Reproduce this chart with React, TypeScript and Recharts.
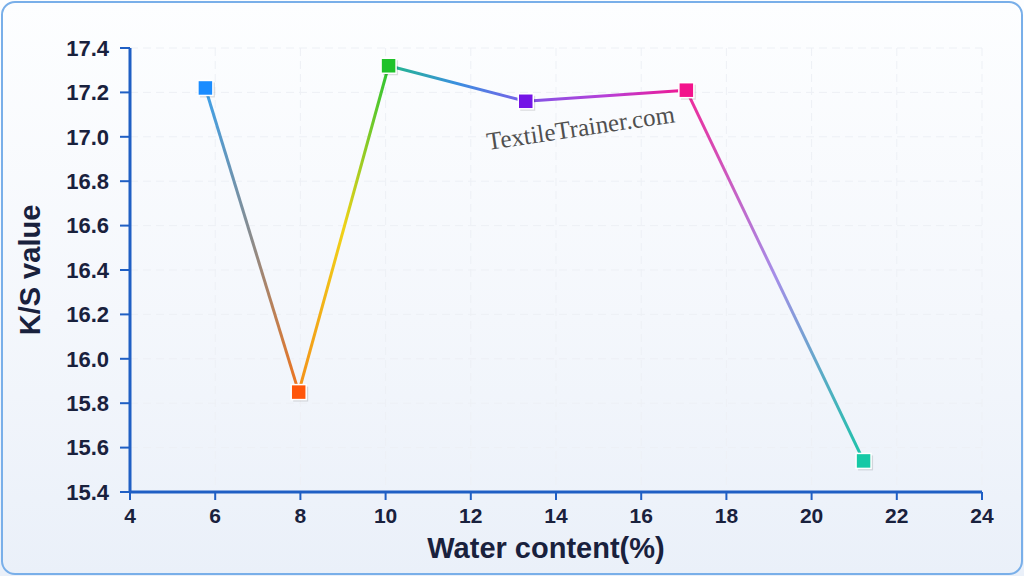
import React from 'react';
import {
  ComposedChart,
  Line,
  Scatter,
  XAxis,
  YAxis,
  CartesianGrid,
} from 'recharts';

// water content (%) and K/S value
const waterContent = [5.77, 7.96, 10.07, 13.29, 17.06, 21.22];
const ksValue = [17.22, 15.85, 17.32, 17.16, 17.21, 15.54];

const xTicks = [4, 6, 8, 10, 12, 14, 16, 18, 20, 22, 24];
const yTicks = [15.4, 15.6, 15.8, 16.0, 16.2, 16.4, 16.6, 16.8, 17.0, 17.2, 17.4];

const markerColors = ['#1a8cff', '#ff560a', '#1fc22a', '#7414e6', '#f3128c', '#16c9a6'];
// gradient stops for each segment between two points
const segmentStops = [
  ['#3ea1ea', '#8b8b8b', '#f0741c'],
  ['#f39019', '#f0d218', '#28c434'],
  ['#22b88a', '#3b8fe0', '#7a5ee8'],
  ['#7f55e6', '#b740d8', '#f2168e'],
  ['#ef2a9a', '#a58ee8', '#19c4a8'],
];

const AXIS = '#1f5fc4';
const TEXT = '#19213d';

const points = waterContent.map((x, i) => ({ x, y: ksValue[i], color: markerColors[i] }));
const segments = points.slice(1).map((p, i) => [points[i], p]);

const SquareDot = (props: any) => {
  const { cx, cy, payload } = props;
  if (cx == null || cy == null) return null;
  const s = 15;
  return (
    <g>
      <rect x={cx - s / 2 + 2} y={cy - s / 2 + 2} width={s} height={s} fill="#000" opacity={0.12} />
      <rect
        x={cx - s / 2}
        y={cy - s / 2}
        width={s}
        height={s}
        fill={payload.color}
        stroke="#ffffff"
        strokeWidth={1.5}
      />
    </g>
  );
};

const fmtY = (v: number) => v.toFixed(1);

export default function App() {
  return (
    <div
      style={{
        position: 'absolute',
        left: 0,
        top: 0,
        width: 1024,
        height: 576,
        overflow: 'hidden',
        background: 'linear-gradient(180deg, #fdfeff 0%, #f4f7fc 55%, #eaf0f9 100%)',
        fontFamily: 'Liberation Sans, Arial, sans-serif',
      }}
    >
      <div
        style={{
          position: 'absolute',
          left: 1,
          top: 1,
          width: 1018,
          height: 570,
          border: '2px solid #79afe9',
          borderRadius: 14,
        }}
      />
      <ComposedChart
        width={1024}
        height={576}
        margin={{ top: 48, right: 42, bottom: 0, left: 0 }}
        style={{ position: 'absolute', left: 0, top: 0 }}
      >
        <defs>
          {segmentStops.map((stops, i) => (
            <linearGradient key={`g-${i}`} id={`seg-${i}`} x1="0" y1="0" x2="1" y2="0">
              {stops.map((c, j) => (
                <stop key={j} offset={`${(j / (stops.length - 1)) * 100}%`} stopColor={c} />
              ))}
            </linearGradient>
          ))}
        </defs>
        <CartesianGrid stroke="#edf0f5" strokeDasharray="8 5" />
        <XAxis
          dataKey="x"
          type="number"
          domain={[4, 24]}
          ticks={xTicks}
          height={84}
          axisLine={{ stroke: AXIS, strokeWidth: 3 }}
          tickLine={{ stroke: AXIS, strokeWidth: 2 }}
          tickSize={8}
          tickMargin={8}
          tick={{ fill: TEXT, fontSize: 21, fontWeight: 700 }}
          allowDuplicatedCategory={false}
          label={{
            value: 'Water content(%)',
            position: 'insideBottom',
            offset: 18,
            dx: -10,
            fill: TEXT,
            fontSize: 29,
            fontWeight: 700,
          }}
        />
        <YAxis
          dataKey="y"
          type="number"
          domain={[15.4, 17.4]}
          ticks={yTicks}
          width={130}
          tickFormatter={fmtY}
          axisLine={{ stroke: AXIS, strokeWidth: 3 }}
          tickLine={{ stroke: AXIS, strokeWidth: 2 }}
          tickSize={10}
          tickMargin={11}
          tick={{ fill: TEXT, fontSize: 22, fontWeight: 700 }}
          label={{
            value: 'K/S value',
            angle: -90,
            position: 'insideLeft',
            offset: 30,
            fill: TEXT,
            fontSize: 29,
            fontWeight: 700,
            style: { textAnchor: 'middle' },
          }}
        />
        {segments.map((seg, i) => (
          <Line
            key={`s-${i}`}
            data={seg}
            dataKey="y"
            type="linear"
            stroke={`url(#seg-${i})`}
            strokeWidth={3}
            dot={false}
            activeDot={false}
            isAnimationActive={false}
          />
        ))}
        <Scatter data={points} dataKey="y" shape={SquareDot} isAnimationActive={false} />
      </ComposedChart>
      <div
        style={{
          position: 'absolute',
          left: 489,
          top: 128,
          fontFamily: 'Liberation Serif, Times New Roman, serif',
          fontSize: 25,
          color: '#505050',
          transform: 'rotate(-8.5deg)',
          transformOrigin: 'left bottom',
          whiteSpace: 'nowrap',
        }}
      >
        TextileTrainer.com
      </div>
    </div>
  );
}
